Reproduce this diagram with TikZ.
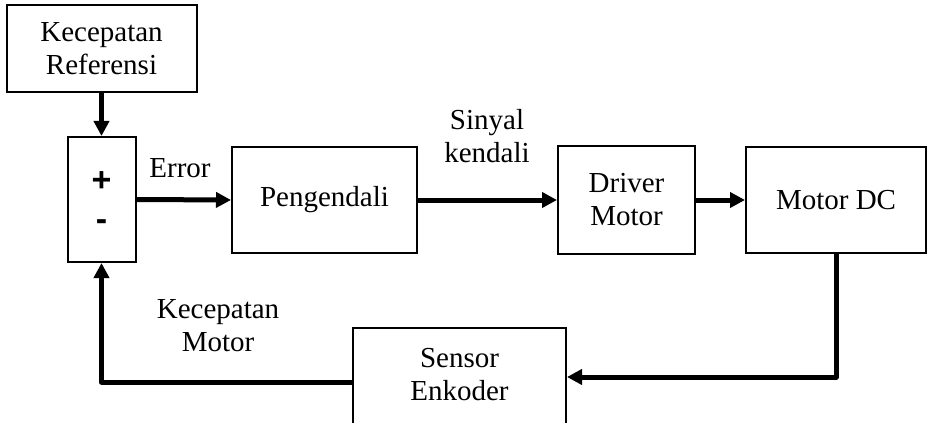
\documentclass[tikz,border=0pt]{standalone}
\usepackage{fontspec}
\setmainfont{Liberation Serif}
\newfontfamily\signfont{Liberation Sans}
\usepackage{tikz}
\usetikzlibrary{arrows.meta}

\tikzset{
  block/.style={draw,line width=1pt,inner sep=0pt,align=center},
  flow/.style={line width=2.5pt,line join=round,-{Triangle[length=7.5pt,width=7.5pt]}},
  lbl/.style={align=center,inner sep=0pt},
  sign/.style={inner sep=0pt,font=\signfont\bfseries\fontsize{17}{18}\selectfont}
}

\begin{document}
\begin{tikzpicture}[x=0.5pt,y=-0.5pt,font=\fontsize{14.5}{16.5}\selectfont]
\useasboundingbox (0,0) rectangle (929,422);
% blocks
\node[block,minimum width=95pt,minimum height=43.5pt] (ref) at (101.5,48.5) {Kecepatan\\Referensi};
\node[block,minimum width=34pt,minimum height=62.5pt] (sum) at (101.5,199.5) {};
\node[sign] (plus) at (101.5,182) {+};
\node[sign] (minus) at (101.5,225) {-};
\node[block,minimum width=92.5pt,minimum height=53pt] (ctrl) at (324.5,200) {Pengendali};
\node[block,minimum width=68.5pt,minimum height=53.5pt] (drv) at (626.5,200) {Driver\\Motor};
\node[block,minimum width=90pt,minimum height=53pt] (motor) at (836,200) {Motor DC};
\node[block,minimum width=106.5pt,minimum height=57pt] (enc) at (459.5,385) {};
\node[lbl] (enctxt) at (459.5,374.5) {Sensor\\Enkoder};
% labels
\node[lbl] (err) at (180,168) {Error};
\node[lbl] (sig) at (487,136.5) {Sinyal\\kendali};
\node[lbl] (spd) at (218,325.5) {Kecepatan\\Motor};
% connectors
\draw[flow] (ref.south) -- (sum.north);
\draw[flow] (sum.east) -- (ctrl.west);
\draw[flow] (ctrl.east) -- (drv.west);
\draw[flow] (drv.east) -- (motor.west);
\draw[flow] (motor.south) |- (enc.east |- 0,377);
\draw[flow] (enc.west |- 0,382) -| (sum.south);
\end{tikzpicture}
\end{document}
